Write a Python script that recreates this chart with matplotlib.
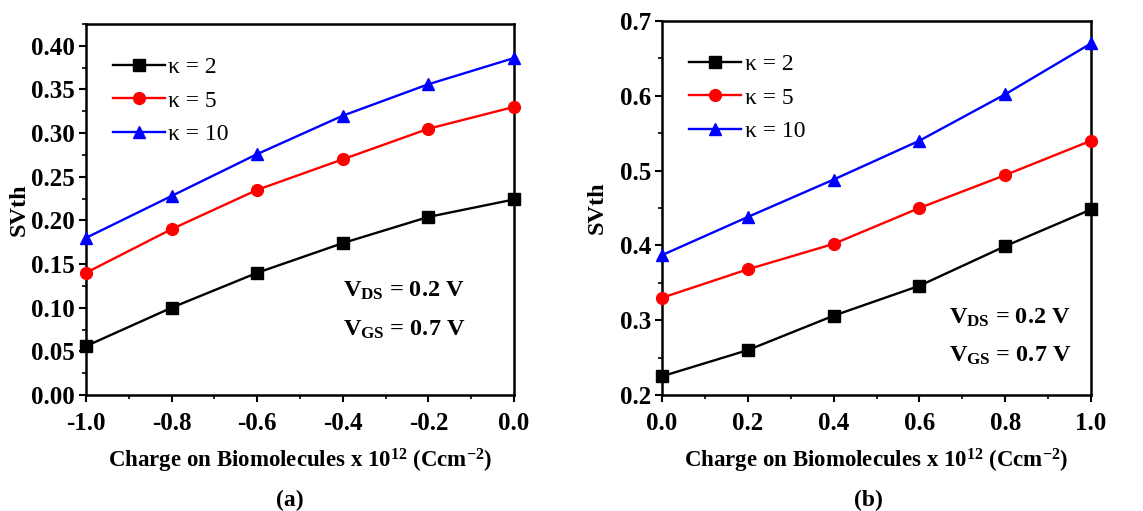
import numpy as np
import matplotlib
matplotlib.use('Agg')
import matplotlib.pyplot as plt
from matplotlib.ticker import MultipleLocator

# Data
x_neg = [-1.0, -0.8, -0.6, -0.4, -0.2, 0.0]
x_pos = [0.0, 0.2, 0.4, 0.6, 0.8, 1.0]

k2_a = [0.056, 0.100, 0.140, 0.174, 0.204, 0.224]
k5_a = [0.140, 0.190, 0.235, 0.270, 0.305, 0.330]
k10_a = [0.180, 0.228, 0.276, 0.320, 0.356, 0.386]

k2_b = [0.225, 0.260, 0.306, 0.346, 0.399, 0.448]
k5_b = [0.330, 0.368, 0.402, 0.450, 0.494, 0.540]
k10_b = [0.387, 0.438, 0.488, 0.540, 0.602, 0.670]

labels = ['\u03ba = 2', '\u03ba = 5', '\u03ba = 10']
colors = ['black', 'red', 'blue']
markers = ['s', 'o', '^']

plt.rcParams['font.family'] = ['Liberation Serif', 'DejaVu Serif']
plt.rcParams['mathtext.fontset'] = 'custom'
plt.rcParams['mathtext.rm'] = 'Liberation Serif:bold'
plt.rcParams['mathtext.bf'] = 'Liberation Serif:bold'
plt.rcParams['mathtext.it'] = 'Liberation Serif:bold'

W, H = 1143, 511
fig = plt.figure(figsize=(W / 100, H / 100), dpi=100)

ax_a = fig.add_axes([86 / W, 1 - 395 / H, (514 - 86) / W, (395 - 24) / H])
ax_b = fig.add_axes([662 / W, 1 - 395 / H, (1091 - 662) / W, (395 - 21) / H])


def draw(ax, x, series, xlim, ylim, xmaj, ymaj, ymin, yfmt):
    for y, lab, c, m in zip(series, labels, colors, markers):
        ax.plot(x, y, color=c, marker=m, markersize=8.5, linewidth=1.7,
                label=lab, clip_on=False, zorder=3)
    ax.set_xlim(*xlim)
    ax.set_ylim(*ylim)
    ax.xaxis.set_major_locator(MultipleLocator(xmaj))
    ax.xaxis.set_minor_locator(MultipleLocator(xmaj / 2))
    ax.yaxis.set_major_locator(MultipleLocator(ymaj))
    ax.yaxis.set_minor_locator(MultipleLocator(ymin))
    ax.yaxis.set_major_formatter(plt.FormatStrFormatter(yfmt))
    ax.xaxis.set_major_formatter(plt.FormatStrFormatter('%.1f'))
    ax.tick_params(which='major', direction='out', length=5, width=1.5,
                   labelsize=18, pad=3)
    ax.tick_params(axis='x', which='major', pad=7)
    ax.tick_params(which='minor', direction='out', length=3, width=1.2)
    for lbl in ax.get_xticklabels() + ax.get_yticklabels():
        lbl.set_fontweight('bold')
    for sp in ax.spines.values():
        sp.set_linewidth(1.8)
    ax.set_xlabel(r'Charge on Biomolecules x 10$^{12}$ (Ccm$^{-2}$)',
                  fontsize=16.5, fontweight='bold', labelpad=9)
    ax.set_ylabel('SVth', fontsize=17.5, fontweight='bold')
    ax.legend(loc='upper left', frameon=False, fontsize=17,
              handlelength=2.2, handletextpad=0.15, labelspacing=0.5,
              bbox_to_anchor=(0.03, 0.95), borderaxespad=0.2)


draw(ax_a, x_neg, [k2_a, k5_a, k10_a], (-1.0, 0.0), (0.0, 0.425),
     0.2, 0.05, 0.025, '%.2f')
draw(ax_b, x_pos, [k2_b, k5_b, k10_b], (0.0, 1.0), (0.2, 0.7),
     0.2, 0.1, 0.05, '%.1f')

ax_a.yaxis.set_label_coords(-0.131, 0.5)
ax_b.yaxis.set_label_coords(-0.126, 0.5)

ax_a.text(0.60, 0.265, r'V$_{DS}$ = 0.2 V', transform=ax_a.transAxes,
          fontsize=17.5, fontweight='bold')
ax_a.text(0.60, 0.16, r'V$_{GS}$ = 0.7 V', transform=ax_a.transAxes,
          fontsize=17.5, fontweight='bold')
ax_b.text(0.67, 0.19, r'V$_{DS}$ = 0.2 V', transform=ax_b.transAxes,
          fontsize=17.5, fontweight='bold')
ax_b.text(0.67, 0.09, r'V$_{GS}$ = 0.7 V', transform=ax_b.transAxes,
          fontsize=17.5, fontweight='bold')

fig.text(290 / W, 1 - 500 / H, '(a)', ha='center', va='center',
         fontsize=17, fontweight='bold')
fig.text(868 / W, 1 - 500 / H, '(b)', ha='center', va='center',
         fontsize=17, fontweight='bold')

fig.savefig('out.png', dpi=100)
